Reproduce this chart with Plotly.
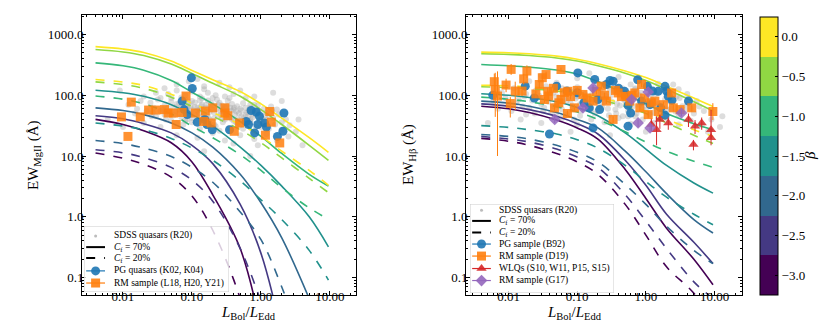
import plotly.graph_objects as go

# =========================
# DATA
# =========================
lbol_grid = [0.004, 0.01, 0.02, 0.05, 0.1, 0.2, 0.5, 1.0, 2.0, 5.0, 9.5]
beta_vals = [-3.0, -2.5, -2.0, -1.5, -1.0, -0.5, 0.0]
beta_labels = ["\u22123.0", "\u22122.5", "\u22122.0", "\u22121.5", "\u22121.0", "\u22120.5", "0.0"]
beta_colors = ["#440154", "#443983", "#31688e", "#21918c", "#35b779", "#90d743", "#fde725"]

# model curves, one row per beta (same order as beta_vals)
mg_cf70 = [
    [40, 33, 26, 16.5, 8.0, 2.3, 0.30, 0.015, None, None, None],
    [46, 41, 34, 24, 15, 7.5, 1.6, 0.25, 0.012, None, None],
    [62, 56, 48, 35, 24, 14, 5.0, 1.7, 0.45, 0.045, None],
    [121, 110, 96, 70, 48, 31, 14, 7.0, 3.2, 1.0, 0.32],
    [340, 305, 258, 175, 112, 72, 37, 21, 11, 5.0, 3.2],
    [565, 515, 450, 325, 228, 157, 96, 58, 33, 15, 8.5],
    [630, 575, 505, 365, 255, 180, 115, 72, 42, 20, 11.5],
]
mg_cf20 = [
    [11.2, 9.2, 7.3, 4.5, 2.2, 0.6, 0.045, 0.002, None, None, None],
    [12.7, 11.3, 9.4, 6.5, 4.0, 1.8, 0.30, 0.04, None, None, None],
    [18, 16, 13.5, 9.8, 6.5, 3.7, 1.2, 0.42, 0.07, 0.004, None],
    [35, 31, 27, 19.5, 13.5, 8.5, 3.9, 1.9, 0.9, 0.28, 0.091],
    [97, 86, 72, 49, 31, 20, 10.5, 5.8, 3.0, 1.4, 0.91],
    [166, 150, 130, 93, 65, 45, 27, 16.5, 9.3, 4.3, 2.5],
    [181, 165, 145, 104, 74, 52, 33, 21, 12, 5.8, 3.3],
]
hb_cf70 = [
    [66, 60, 52, 39, 29, 19, 6.0, 2.0, 0.65, 0.2, 0.076],
    [72, 66, 58, 45, 34, 23, 8.5, 3.3, 1.1, 0.38, 0.17],
    [80, 74, 66, 52, 40, 29, 12, 5.5, 2.4, 0.9, 0.54],
    [106, 100, 92, 78, 63, 46, 24, 13, 7.0, 3.6, 2.45],
    [320, 305, 290, 260, 222, 168, 105, 72, 50, 34, 27],
    [480, 470, 450, 410, 365, 305, 230, 175, 125, 78, 55],
    [512, 500, 480, 440, 390, 330, 250, 195, 140, 90, 65],
]
hb_cf20 = [
    [19.5, 17.5, 15, 11, 8.0, 5.0, 1.6, 0.5, 0.15, 0.055, 0.018],
    [21, 19, 17, 13, 9.6, 6.5, 2.3, 0.85, 0.3, 0.085, 0.045],
    [22.6, 21, 19, 15, 11.5, 8.0, 3.4, 1.6, 0.7, 0.28, 0.17],
    [31.6, 29.5, 27, 23, 18.5, 13.5, 7.0, 3.8, 2.1, 1.1, 0.74],
    [93, 86, 78, 65, 53, 40, 25, 17, 12, 8.2, 6.5],
    [138, 134, 128, 117, 104, 87, 65, 50, 35, 22, 16],
    [146, 143, 137, 125, 111, 94, 71, 55, 40, 27, 21],
]

# SDSS quasars (R20), MgII panel
sdss_mg = [
    (0.06, 150), (0.09, 170), (0.15, 140), (0.25, 160), (0.04, 130), (0.35, 135), (0.12, 185), (0.5, 120),
    (0.02, 95), (0.03, 110), (0.045, 105), (0.06, 120), (0.08, 100), (0.1, 115), (0.13, 95), (0.17, 110),
    (0.22, 100), (0.3, 95), (0.4, 105), (0.6, 90), (0.8, 95), (0.035, 90), (0.07, 92), (0.15, 125),
    (0.012, 70), (0.018, 80), (0.025, 75), (0.032, 85), (0.04, 68), (0.05, 78), (0.065, 72), (0.08, 84),
    (0.095, 66), (0.11, 76), (0.14, 70), (0.17, 82), (0.2, 68), (0.25, 75), (0.3, 64), (0.38, 72),
    (0.45, 66), (0.55, 74), (0.7, 62), (0.9, 68), (1.1, 60), (1.4, 65), (0.028, 62), (0.055, 64),
    (0.085, 60), (0.12, 62), (0.16, 62), (0.23, 85), (0.33, 80),
    (0.015, 50), (0.022, 55), (0.03, 45), (0.038, 58), (0.048, 48), (0.058, 55), (0.07, 44), (0.09, 52),
    (0.1, 42), (0.12, 56), (0.145, 46), (0.18, 53), (0.21, 42), (0.26, 55), (0.31, 47), (0.37, 41),
    (0.44, 54), (0.52, 45), (0.62, 52), (0.75, 43), (0.85, 50), (1.0, 44), (1.2, 52), (1.5, 42),
    (1.8, 48), (2.3, 40), (0.065, 58), (0.13, 58), (0.28, 58), (0.42, 48), (0.095, 47), (0.17, 44),
    (0.02, 35), (0.035, 30), (0.05, 38), (0.075, 33), (0.1, 36), (0.13, 28), (0.17, 37), (0.22, 31),
    (0.28, 36), (0.35, 29), (0.45, 35), (0.55, 28), (0.7, 36), (0.85, 30), (1.05, 34), (1.3, 28),
    (1.6, 33), (2.0, 27), (2.6, 32), (0.6, 38), (0.25, 26), (0.4, 38),
    (0.06, 22), (0.12, 20), (0.2, 24), (0.3, 18), (0.5, 22), (0.8, 19), (1.2, 23), (1.7, 18),
    (2.5, 21), (3.2, 25), (0.9, 15), (0.4, 16),
    (0.07, 65), (0.11, 48), (0.15, 55), (0.19, 60), (0.24, 45), (0.32, 52), (0.4, 58), (0.5, 60),
    (0.65, 45), (0.09, 75), (0.13, 82), (0.2, 90), (0.27, 68), (0.36, 62), (0.46, 40), (0.58, 35),
    (0.75, 55), (0.95, 38), (1.15, 47), (0.05, 90), (0.04, 48), (0.026, 45), (0.016, 60), (0.06, 35),
    (0.085, 40), (0.14, 36), (0.21, 33), (0.3, 40), (0.6, 62), (0.8, 70),
    (0.035, 55), (0.045, 62), (0.055, 47), (0.065, 50), (0.075, 56), (0.085, 68), (0.1, 58), (0.11, 64),
    (0.125, 50), (0.135, 66), (0.15, 48), (0.16, 70), (0.18, 40), (0.19, 74), (0.21, 52), (0.23, 60),
    (0.24, 70), (0.26, 48), (0.29, 54), (0.32, 66), (0.34, 44), (0.37, 56), (0.41, 62), (0.43, 36),
    (0.48, 50), (0.52, 56), (0.56, 42), (0.6, 48), (0.66, 56), (0.7, 40), (0.78, 48), (0.88, 56),
    (0.95, 52), (1.1, 40), (1.3, 45), (1.45, 55), (0.027, 52), (0.042, 40), (0.06, 72), (0.08, 38),
    (0.1, 80), (0.14, 88), (0.18, 34), (0.27, 42), (0.35, 90), (0.5, 32), (0.7, 70), (1.0, 30),
    (2.0, 36), (1.7, 58),
    (0.006, 40), (0.009, 120), (0.01, 30), (3.5, 40), (4.0, 15), (0.7, 10), (0.15, 12), (1.5, 110), (2.0, 80),
]

# SDSS quasars (R20), Hbeta panel
sdss_hb = [
    (0.02, 170), (0.05, 160), (0.1, 190), (0.2, 155), (0.35, 175), (0.6, 150), (0.9, 165), (1.5, 155),
    (0.03, 210), (0.15, 230), (0.4, 200), (2.5, 150),
    (0.008, 110), (0.012, 130), (0.018, 105), (0.025, 120), (0.035, 140), (0.045, 110), (0.06, 130),
    (0.08, 115), (0.1, 135), (0.13, 105), (0.17, 125), (0.22, 110), (0.28, 140), (0.35, 115), (0.45, 130),
    (0.55, 105), (0.7, 125), (0.85, 110), (1.1, 130), (1.4, 105), (1.8, 120), (2.3, 110), (3.0, 125), (4.0, 105),
    (0.006, 80), (0.009, 90), (0.013, 75), (0.017, 95), (0.022, 82), (0.03, 72), (0.04, 92), (0.05, 78),
    (0.065, 88), (0.08, 74), (0.1, 95), (0.12, 80), (0.15, 70), (0.19, 90), (0.24, 78), (0.3, 96),
    (0.38, 72), (0.47, 86), (0.6, 76), (0.75, 92), (0.95, 74), (1.2, 88), (1.5, 72), (1.9, 85),
    (2.4, 75), (3.1, 90), (4.0, 72), (5.5, 80), (0.028, 98), (0.11, 71),
    (0.007, 60), (0.011, 55), (0.016, 65), (0.024, 50), (0.033, 62), (0.042, 52), (0.055, 66), (0.07, 48),
    (0.09, 58), (0.11, 46), (0.14, 62), (0.18, 50), (0.23, 64), (0.29, 47), (0.36, 58), (0.46, 45),
    (0.58, 62), (0.73, 50), (0.9, 60), (1.15, 48), (1.45, 63), (1.85, 52), (2.3, 60), (3.0, 48),
    (3.8, 58), (5.0, 50), (7.0, 55), (0.05, 45), (0.2, 55),
    (0.015, 40), (0.03, 35), (0.06, 42), (0.1, 33), (0.16, 40), (0.25, 36), (0.4, 42), (0.6, 34),
    (0.9, 40), (1.3, 35), (2.0, 42), (3.0, 33), (4.5, 38), (6.5, 32), (9.0, 40),
    (0.01, 70), (0.014, 85), (0.02, 62), (0.026, 90), (0.032, 55), (0.038, 78), (0.045, 66), (0.05, 95),
    (0.06, 58), (0.07, 82), (0.085, 64), (0.095, 88), (0.11, 56), (0.125, 92), (0.14, 76), (0.16, 58),
    (0.18, 84), (0.21, 66), (0.25, 88), (0.28, 60), (0.32, 78), (0.37, 50), (0.42, 68), (0.5, 80),
    (0.55, 55), (0.65, 66), (0.7, 45), (0.8, 70), (1.0, 58), (1.1, 80), (1.3, 52), (1.6, 66),
    (2.0, 58), (2.2, 80), (2.7, 54), (3.4, 66), (4.5, 60), (0.018, 48), (0.04, 110), (0.09, 40),
    (0.16, 100), (0.3, 120), (0.55, 45), (0.8, 100), (1.5, 42), (2.8, 95), (6.0, 65), (0.7, 130),
    (0.005, 35), (8.0, 25), (12, 30), (13, 45), (0.08, 25), (0.3, 22), (1.0, 25), (0.26, 100), (0.5, 98),
]

# PG quasars (K02, K04), MgII
pg_mg_x = [0.098, 0.101, 0.077, 0.072, 0.0855, 0.119, 0.153, 0.165, 0.197, 0.35, 0.61, 0.66,
           0.72, 0.855, 0.9, 0.81, 0.95, 1.13, 1.2, 1.73, 2.08, 2.15]
pg_mg_y = [193, 129, 58, 80, 48, 36, 40, 33, 27, 27, 37, 33,
           56, 53, 33, 24, 45, 35, 30, 21, 25.5, 51]

# RM sample (L18, H20, Y21), MgII
rm_mg_x = [0.0095, 0.0118, 0.0132, 0.0178, 0.0235, 0.030, 0.040, 0.045, 0.054, 0.059, 0.072, 0.082,
           0.112, 0.148, 0.156, 0.2, 0.19, 0.30, 0.30, 0.33, 0.41, 0.49, 1.16, 1.34, 1.41, 1.87]
rm_mg_y = [44, 21, 77, 44, 57, 57, 58, 51, 51, 33, 52, 97,
           51, 37, 55, 62, 35, 62, 51, 46, 25.5, 35, 22, 54, 36, 16.4]

# PG sample (B92), Hbeta
pg_hb_x = [0.0059, 0.0175, 0.0237, 0.0394, 0.05, 0.071, 0.1, 0.102, 0.125, 0.15, 0.17, 0.18,
           0.2, 0.212, 0.266, 0.3, 0.333, 0.4, 0.49, 0.5, 0.55, 0.55, 0.6, 0.76, 0.865, 1.05,
           1.15, 1.25, 1.51, 1.65, 1.9, 1.9, 2.0, 2.12, 2.4, 4.17]
pg_hb_y = [100, 141, 90, 23, 141, 117, 110, 233, 75, 62, 29, 182,
           85, 58, 150, 175, 170, 130, 116, 100, 68, 31, 51, 180, 80, 140,
           70, 117, 116, 62, 140, 47, 117, 96, 83, 80]

# RM sample (D19), Hbeta, with asymmetric errors
rm_hb_x = [0.0062, 0.0064, 0.0069, 0.0092, 0.0106, 0.0109, 0.0125, 0.0157, 0.0166, 0.0185,
           0.025, 0.028, 0.031, 0.0333, 0.0352, 0.0372, 0.0385, 0.045, 0.0466, 0.054, 0.058, 0.058,
           0.065, 0.072, 0.073, 0.08, 0.091, 0.1, 0.121, 0.14, 0.17, 0.19, 0.224, 0.25, 0.266,
           0.333, 0.36, 0.394, 0.44, 0.521, 0.583, 0.63, 0.69, 0.817, 0.865, 0.95, 1.08, 1.2,
           1.35, 1.51, 1.8, 2.37, 2.51, 3.15, 4.66, 9.45]
rm_hb_y = [167, 124, 97, 147, 73, 266, 117, 117, 186, 250,
           105, 150, 194, 85, 219, 116, 97, 130, 62, 75, 265, 85,
           110, 50, 116, 95, 62, 120, 103, 90, 80, 115, 141, 100, 80,
           40, 120, 109, 95, 96, 80, 100, 109, 62, 150, 90, 48, 75,
           80, 54, 70, 109, 62, 58, 62, 54]
rm_hb_err_hi = [60, 110, 150, 40, 20, 60, 50, 20, 40, 60,
                15, 20, 25, 10, 25, 15, 12, 15, 8, 10, 20, 10,
                12, 6, 12, 10, 8, 15, 10, 10, 10, 12, 15, 10, 8,
                5, 12, 10, 10, 10, 8, 10, 10, 8, 15, 10, 6, 8,
                8, 6, 8, 12, 8, 6, 8, 20]
rm_hb_err_lo = [50, 80, 87, 35, 30, 50, 60, 20, 35, 60,
                15, 20, 25, 10, 25, 15, 12, 15, 8, 10, 20, 10,
                12, 6, 12, 10, 8, 15, 10, 10, 10, 12, 15, 10, 8,
                5, 12, 10, 10, 10, 8, 10, 10, 8, 15, 10, 6, 8,
                8, 6, 8, 12, 8, 6, 8, 15]

# WLQs (S10, W11, P15, S15), Hbeta
wlq_x = [1.2, 1.43, 1.6, 2.12, 4.17, 4.93, 5.2, 6.5, 8.9, 8.9]
wlq_y = [33, 27, 40, 35, 40, 15.4, 31, 35, 27, 20]
wlq_err_hi = [8, 18, 8, 8, 10, 3, 8, 8, 30, 6]
wlq_err_lo = [8, 12, 12, 8, 10, 3, 8, 8, 8, 5]

# RM sample (G17), Hbeta
g17_x = [0.047, 0.121, 0.17, 0.62, 0.77, 1.08, 1.15, 3.3]
g17_y = [40, 62, 132, 85, 35, 113, 29, 51]
g17_err = [5, 8, 15, 10, 5, 12, 4, 6]

y_tickvals = [0.1, 1, 10, 100, 1000]
y_ticktext = ["0.1", "1.0", "10.0", "100.0", "1000.0"]
x_tickvals = [0.01, 0.1, 1, 10]
x_ticktext = ["0.01", "0.10", "1.00", "10.00"]

mg_legend_labels = ["SDSS quasars (R20)", "<i>C</i><sub>f</sub> = 70%", "<i>C</i><sub>f</sub> = 20%",
                    "PG quasars (K02, K04)", "RM sample (L18, H20, Y21)"]
hb_legend_labels = ["SDSS quasars (R20)", "<i>C</i><sub>f</sub> = 70%", "<i>C</i><sub>f</sub> = 20%",
                    "PG sample (B92)", "RM sample (D19)", "WLQs (S10, W11, P15, S15)", "RM sample (G17)"]

# =========================
# STYLE
# =========================
W, H = 830, 333
FONT = "Liberation Serif"
C_BLUE, C_ORANGE, C_RED, C_PURPLE = "#1f77b4", "#ff7f0e", "#d62728", "#9467bd"
C_SDSS = "rgba(170,170,170,0.4)"

left_px = (74, 348)
right_px = (458, 734)
top_px, bot_px = 7, 287


def px_dom(a, b, total):
    return [a / total, b / total]


ydom = [1 - bot_px / H, 1 - top_px / H]
minor_vals = [m * 10 ** e for e in range(-3, 4) for m in range(2, 10)]

fig = go.Figure()


def add_panel(xa, ya, cf70, cf20, sdss):
    sx, sy = zip(*sdss)
    fig.add_trace(go.Scatter(x=sx, y=sy, mode="markers", xaxis=xa, yaxis=ya,
                             marker=dict(size=6, color=C_SDSS), showlegend=False, hoverinfo="skip"))
    for i in range(len(beta_vals)):
        for rows, dash in ((cf70, "solid"), (cf20, "dash")):
            fig.add_trace(go.Scatter(x=lbol_grid, y=rows[i], mode="lines", xaxis=xa, yaxis=ya,
                                     line=dict(color=beta_colors[i], width=1.6, dash=dash, shape="spline"),
                                     showlegend=False))


add_panel("x", "y", mg_cf70, mg_cf20, sdss_mg)
add_panel("x2", "y2", hb_cf70, hb_cf20, sdss_hb)

# left panel samples
fig.add_trace(go.Scatter(x=pg_mg_x, y=pg_mg_y, mode="markers", xaxis="x", yaxis="y",
                         marker=dict(size=9, color=C_BLUE, opacity=0.9), showlegend=False))
fig.add_trace(go.Scatter(x=rm_mg_x, y=rm_mg_y, mode="markers", xaxis="x", yaxis="y",
                         marker=dict(size=9, symbol="square", color=C_ORANGE, opacity=0.85), showlegend=False))

# right panel samples
fig.add_trace(go.Scatter(x=pg_hb_x, y=pg_hb_y, mode="markers", xaxis="x2", yaxis="y2",
                         marker=dict(size=9, color=C_BLUE, opacity=0.9), showlegend=False))
fig.add_trace(go.Scatter(x=rm_hb_x, y=rm_hb_y, mode="markers", xaxis="x2", yaxis="y2",
                         error_y=dict(type="data", array=rm_hb_err_hi, arrayminus=rm_hb_err_lo,
                                      color=C_ORANGE, thickness=1, width=0),
                         marker=dict(size=9, symbol="square", color=C_ORANGE, opacity=0.85), showlegend=False))
fig.add_trace(go.Scatter(x=wlq_x, y=wlq_y, mode="markers", xaxis="x2", yaxis="y2",
                         error_y=dict(type="data", array=wlq_err_hi, arrayminus=wlq_err_lo,
                                      color=C_RED, thickness=1, width=0),
                         marker=dict(size=9, symbol="triangle-up", color=C_RED, opacity=0.85), showlegend=False))
fig.add_trace(go.Scatter(x=g17_x, y=g17_y, mode="markers", xaxis="x2", yaxis="y2",
                         error_y=dict(type="data", array=g17_err, color=C_PURPLE, thickness=1, width=0),
                         marker=dict(size=9, symbol="diamond", color=C_PURPLE, opacity=0.85), showlegend=False))

# colorbar (discrete viridis)
cs = []
n = len(beta_colors)
for i, c in enumerate(beta_colors):
    cs.append([i / n, c])
    cs.append([(i + 1) / n, c])
cbar = dict(x=752 / W, xanchor="left", y=1 - 148 / H, yanchor="middle",
            len=278 / H, lenmode="fraction", thickness=18, thicknessmode="pixels",
            outlinewidth=1, outlinecolor="black", xpad=0, ypad=0,
            tickvals=beta_vals, ticktext=beta_labels, ticks="inside", ticklen=3, tickcolor="black",
            tickfont=dict(family=FONT, size=13, color="black"))
fig.add_trace(go.Scatter(x=[None], y=[None], mode="markers", xaxis="x2", yaxis="y2", showlegend=False,
                         marker=dict(color=[0], colorscale=cs, cmin=-3.25, cmax=0.25,
                                     showscale=True, colorbar=cbar)))


# =========================
# LEGENDS (drawn in small overlay axes)
# =========================
def add_legend(xa, ya, labels, glyphs, rows, text_x):
    fig.add_trace(go.Scatter(x=[0, 1, 1, 0, 0], y=[0, 0, 1, 1, 0], mode="lines", fill="toself",
                             fillcolor="rgba(255,255,255,0.8)", line=dict(color="#cccccc", width=1),
                             xaxis=xa, yaxis=ya, showlegend=False, hoverinfo="skip"))
    for lab, g, yr in zip(labels, glyphs, rows):
        kind, color, sym = g
        if kind == "dot":
            fig.add_trace(go.Scatter(x=[0.08], y=[yr], mode="markers", xaxis=xa, yaxis=ya, showlegend=False,
                                     marker=dict(size=3, color="rgba(160,160,160,0.7)")))
        elif kind in ("solid", "dash"):
            fig.add_trace(go.Scatter(x=[0.015, 0.145], y=[yr, yr], mode="lines", xaxis=xa, yaxis=ya,
                                     showlegend=False, line=dict(color="black", width=2, dash=kind)))
        else:
            fig.add_trace(go.Scatter(x=[0.015, 0.145], y=[yr, yr], mode="lines", xaxis=xa, yaxis=ya,
                                     showlegend=False, line=dict(color=color, width=1.2)))
            fig.add_trace(go.Scatter(x=[0.08], y=[yr], mode="markers", xaxis=xa, yaxis=ya, showlegend=False,
                                     marker=dict(size=9, symbol=sym, color=color, opacity=0.9)))
        fig.add_annotation(x=text_x, y=yr, xref=xa, yref=ya, text=lab, showarrow=False, xanchor="left",
                           yanchor="middle", font=dict(family=FONT, size=9.5, color="black"))


mg_glyphs = [("dot", None, None), ("solid", None, None), ("dash", None, None),
             ("mark", C_BLUE, "circle"), ("mark", C_ORANGE, "square")]
hb_glyphs = [("dot", None, None), ("solid", None, None), ("dash", None, None),
             ("mark", C_BLUE, "circle"), ("mark", C_ORANGE, "square"),
             ("mark", C_RED, "triangle-up"), ("mark", C_PURPLE, "diamond")]
add_legend("x3", "y3", mg_legend_labels, mg_glyphs, [0.85, 0.68, 0.515, 0.32, 0.136], 0.193)
add_legend("x4", "y4", hb_legend_labels, hb_glyphs,
           [0.93, 0.81, 0.68, 0.55, 0.415, 0.275, 0.14], 0.19)

# =========================
# AXES
# =========================
tick_font = dict(family=FONT, size=13, color="black")


def log_axis(dom, rng, tv, tt, anchor, standoff):
    return dict(type="log", domain=dom, range=rng, tickvals=tv, ticktext=tt, anchor=anchor,
                ticks="inside", ticklen=4, tickcolor="black", showline=True, linecolor="black",
                linewidth=1, mirror="allticks", showgrid=False, zeroline=False, tickfont=tick_font,
                ticklabelstandoff=standoff,
                minor=dict(tickvals=minor_vals, ticks="inside", ticklen=2, tickcolor="black", showgrid=False))


hidden = dict(visible=False, range=[0, 1], showgrid=False, zeroline=False, fixedrange=True)

fig.update_layout(
    width=W, height=H,
    margin=dict(l=0, r=0, t=0, b=0, autoexpand=False),
    paper_bgcolor="white", plot_bgcolor="rgba(0,0,0,0)",
    showlegend=False,
    font=dict(family=FONT, color="black"),
    xaxis=log_axis(px_dom(*left_px, W), [-2.594, 1.377], x_tickvals, x_ticktext, "y", -11),
    yaxis=log_axis(ydom, [-1.287, 3.32], y_tickvals, y_ticktext, "x", -5),
    xaxis2=log_axis(px_dom(*right_px, W), [-2.62, 1.40], x_tickvals, x_ticktext, "y2", -11),
    yaxis2=log_axis(ydom, [-1.287, 3.32], y_tickvals, y_ticktext, "x2", -5),
    xaxis3=dict(hidden, domain=px_dom(76, 221, W), anchor="y3"),
    yaxis3=dict(hidden, domain=[1 - 284 / H, 1 - 218 / H], anchor="x3"),
    xaxis4=dict(hidden, domain=px_dom(462, 606, W), anchor="y4"),
    yaxis4=dict(hidden, domain=[1 - 285 / H, 1 - 196 / H], anchor="x4"),
)

# axis titles
title_font = dict(family=FONT, size=15, color="black")
ymid = 1 - (top_px + bot_px) / 2 / H
fig.add_annotation(x=15 / W, y=ymid, xref="paper", yref="paper", text="EW<sub>MgII</sub> (Å)",
                   textangle=-90, showarrow=False, font=title_font)
fig.add_annotation(x=401 / W, y=ymid, xref="paper", yref="paper", text="EW<sub>Hβ</sub> (Å)",
                   textangle=-90, showarrow=False, font=title_font)
for a, b in (left_px, right_px):
    fig.add_annotation(x=(a + b) / 2 / W, y=1 - 316 / H, xref="paper", yref="paper",
                       text="<i>L</i><sub>Bol</sub>/<i>L</i><sub>Edd</sub>", showarrow=False, font=title_font)
fig.add_annotation(x=812 / W, y=1 - 148 / H, xref="paper", yref="paper", text="<i>β</i>",
                   textangle=-90, showarrow=False, font=dict(family=FONT, size=15, color="black"))

fig.write_html("out.html")
